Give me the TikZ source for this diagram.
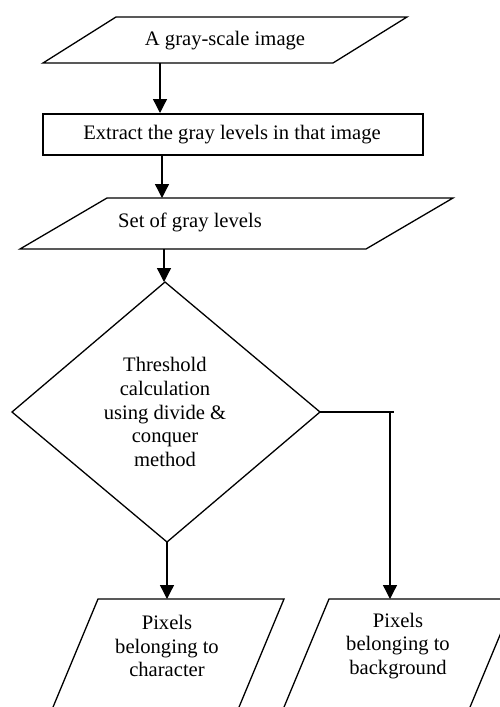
\documentclass[tikz,border=0pt]{standalone}
\usepackage{fontspec}
\setmainfont{Liberation Serif}
\usetikzlibrary{arrows.meta}
\begin{document}
\begin{tikzpicture}[x=1pt,y=-1pt,line width=1.3pt,
  txt/.style={font=\fontsize{20.6}{23.6}\selectfont,align=center,inner sep=0pt},
  arr/.style={-{Triangle[width=14pt,length=14pt]}},
  boxline/.style={draw,line join=miter}]
\useasboundingbox (0,0) rectangle (500,707);
\clip (0,0) rectangle (500,707);
% shapes
\draw[boxline] (116,17) -- (407,17) -- (333,63) -- (43,63) -- cycle;
\node[txt] (t1) at (225,41) {A gray-scale image};
\draw[boxline] (43,114) rectangle (423,155);
\node[txt] (t2) at (232,135) {Extract the gray levels in that image};
\draw[boxline] (107,198) -- (453,198) -- (366,249) -- (20,249) -- cycle;
\node[txt] (t3) at (190,222) {Set of gray levels};
\draw[boxline] (165,282) -- (320,412) -- (167,542) -- (12,412) -- cycle;
\node[txt] (t4) at (165,412) {Threshold\\calculation\\using divide \&\\conquer\\method};
\draw[boxline] (98,599) -- (284,599) -- (217,760) -- (31,760) -- cycle;
\node[txt] (t5) at (167,646) {Pixels\\belonging to\\character};
\draw[boxline] (329,599) -- (515,599) -- (448,760) -- (262,760) -- cycle;
\node[txt] (t6) at (398,646) {Pixels\\belonging to\\background};
% connector end points
\coordinate (a1s) at (160,63);  \coordinate (a1e) at (160,113);
\coordinate (a2s) at (162,155); \coordinate (a2e) at (162,198);
\coordinate (a3s) at (164,249); \coordinate (a3e) at (164,282);
\coordinate (dbot) at (167,542); \coordinate (lin) at (167,599);
\coordinate (dright) at (320,412); \coordinate (corner) at (390,412);
\coordinate (over) at (394,412); \coordinate (rin) at (390,599);
% connectors
\draw[arr] (a1s) -- (a1e);
\draw[arr] (a2s) -- (a2e);
\draw[arr] (a3s) -- (a3e);
\draw[arr] (dbot) -- (lin);
\draw (dright) -- (over);
\draw[arr] (corner) -- (rin);
\end{tikzpicture}
\end{document}
